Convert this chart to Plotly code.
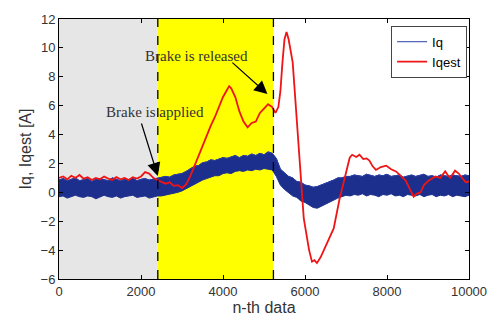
import plotly.graph_objects as go

# ---- data ----
iq_x = list(range(0, 10001, 100))
iq_upper = [0.85, 0.95, 0.8, 0.9, 1.0, 0.8, 0.85, 0.95, 0.75, 0.9,
            0.95, 0.85, 0.8, 1.0, 0.9, 0.8, 0.9, 0.85, 1.0, 0.8,
            0.9, 0.95, 0.85, 0.9, 1.0,
            1.0, 1.1, 1.05, 1.2, 1.25, 1.3, 1.45, 1.6, 1.8, 1.85,
            2.05, 2.1, 2.25, 2.2, 2.3, 2.4, 2.35, 2.45, 2.55, 2.4,
            2.55, 2.5, 2.65, 2.55, 2.7, 2.6, 2.8, 2.7,
            2.35, 1.6, 1.35, 1.1, 1.0, 0.75, 0.7, 0.5, 0.45, 0.35,
            0.4, 0.5, 0.6, 0.75, 0.85, 1.0, 1.0, 1.1, 1.1, 1.2,
            1.15, 1.1, 1.25, 1.15, 1.1, 1.2, 1.15, 1.25, 1.1, 1.15,
            1.2, 1.05, 1.15, 1.2, 1.1, 1.15, 1.25, 1.1, 1.15, 1.05,
            1.2, 1.15, 1.1, 1.2, 1.15, 1.1, 1.2, 1.15]
iq_lower = [-0.3, -0.25, -0.4, -0.3, -0.2, -0.3, -0.35, -0.25, -0.3, -0.45,
            -0.3, -0.2, -0.3, -0.35, -0.25, -0.4, -0.3, -0.25, -0.2, -0.35,
            -0.3, -0.25, -0.4, -0.3, -0.25,
            -0.25, -0.2, -0.15, -0.05, 0.0, 0.1, 0.25, 0.4, 0.55, 0.75,
            0.85, 0.95, 1.05, 1.15, 1.15, 1.3, 1.35, 1.3, 1.45, 1.5,
            1.45, 1.55, 1.5, 1.6, 1.55, 1.65, 1.6, 1.55,
            1.1, 0.5, 0.2, 0.0, -0.25, -0.35, -0.6, -0.7, -0.9, -1.05,
            -1.1, -0.95, -0.85, -0.65, -0.5, -0.4, -0.3, -0.2, -0.25, -0.15,
            -0.2, -0.1, -0.25, -0.15, -0.2, -0.3, -0.15, -0.2, -0.1, -0.25,
            -0.2, -0.3, -0.15, -0.2, -0.25, -0.15, -0.3, -0.2, -0.15, -0.3,
            -0.2, -0.25, -0.15, -0.3, -0.2, -0.25, -0.3, -0.2]

iqest_x = [0, 100, 200, 300, 400, 500, 600, 700, 800, 900,
           1000, 1100, 1200, 1300, 1400, 1500, 1600, 1700, 1800, 1900,
           2000, 2100, 2200, 2300, 2400, 2500, 2600, 2700, 2800, 2900,
           3000, 3100, 3200, 3300, 3400, 3500, 3600, 3700, 3800, 3900,
           4000, 4100, 4150, 4200, 4300, 4400, 4500, 4600, 4700, 4800,
           4900, 5000, 5100, 5200, 5280, 5350, 5400, 5450, 5500, 5550,
           5600, 5700, 5760, 5850, 5970, 6100, 6170, 6230, 6290, 6380,
           6480, 6600, 6700, 6840, 6960, 7090, 7150, 7250, 7330, 7420,
           7500, 7570, 7650, 7730, 7850, 7980, 8100, 8220, 8350, 8460,
           8560, 8650, 8720, 8820, 8900, 9010, 9100, 9180, 9300, 9420,
           9480, 9540, 9660, 9750, 9830, 9920, 10000]
iqest_y = [1.0, 1.1, 0.9, 1.15, 1.0, 1.2, 0.95, 1.05, 0.85, 1.0,
           0.9, 1.1, 0.95, 0.85, 1.05, 0.9, 1.0, 0.85, 1.05, 0.95,
           1.1, 1.4, 1.3, 1.0, 0.85, 0.75, 0.6, 0.7, 0.45, 0.5,
           0.3, 0.55, 1.1, 1.8, 2.5, 3.3, 4.0, 4.6, 5.2, 5.9,
           6.6, 7.1, 7.35, 7.2, 6.6, 5.6, 4.9, 4.5, 4.8, 4.9,
           5.5, 5.8, 6.1, 5.9, 5.5, 5.9, 7.0, 9.0, 10.6, 11.1,
           10.6, 9.0, 6.5, 2.5, -1.8, -4.0, -4.8, -4.7, -4.9, -4.5,
           -3.9, -3.1, -2.5, -0.5, 0.9, 2.4, 2.6, 2.45, 2.6, 2.3,
           2.35, 2.2, 1.8, 1.55, 1.75, 1.85, 1.6, 1.45, 1.1, 0.8,
           0.2, -0.3, -0.1, 0.0, 0.5, 0.8, 0.95, 1.1, 1.0, 1.45,
           1.2, 1.0, 1.5, 1.3, 1.0, 0.7, 0.75]

brake_applied = 2410
brake_released = 5230

x_ticks = [0, 2000, 4000, 6000, 8000, 10000]
x_tick_labels = ["0", "2000", "4000", "6000", "8000", "10000"]
y_ticks = [-6, -4, -2, 0, 2, 4, 6, 8, 10, 12]

BLUE = "#1c2f8c"
RED = "#f01414"

fig = go.Figure()

# Iq: filled noise envelope (lower edge -> upper edge)
fig.add_trace(go.Scatter(x=iq_x, y=iq_lower, mode="lines",
                         line=dict(color=BLUE, width=1), showlegend=False,
                         hoverinfo="skip"))
fig.add_trace(go.Scatter(x=iq_x, y=iq_upper, mode="lines", fill="tonexty",
                         fillcolor=BLUE, line=dict(color=BLUE, width=1),
                         showlegend=False, hoverinfo="skip"))
# line entry for Iq in the legend (drawn along the band's upper edge)
fig.add_trace(go.Scatter(x=iq_x, y=iq_upper, mode="lines", name="Iq",
                         line=dict(color="#2a3ea8", width=1), hoverinfo="skip"))
fig.add_trace(go.Scatter(x=iqest_x, y=iqest_y, mode="lines", name="Iqest",
                         line=dict(color=RED, width=1.8)))

# shaded regions
fig.add_shape(type="rect", x0=0, x1=brake_applied, y0=-6, y1=12,
              fillcolor="#e6e6e6", line_width=0, layer="below")
fig.add_shape(type="rect", x0=brake_applied, x1=brake_released, y0=-6, y1=12,
              fillcolor="#ffff00", line_width=0, layer="below")
for xv in (brake_applied, brake_released):
    fig.add_shape(type="line", x0=xv, x1=xv, y0=-6, y1=12,
                  line=dict(color="black", width=1.3, dash="dash"), layer="above")

serif = dict(family="Liberation Serif", size=15, color="#333333")
fig.add_annotation(x=3350, y=9.47, text="Brake is released", showarrow=False, font=serif)
fig.add_annotation(x=2337, y=5.53, text="Brake is applied", showarrow=False, font=serif)
fig.add_annotation(x=5084, y=6.8, ax=4193, ay=9.07, axref="x", ayref="y",
                   xref="x", yref="y", text="", showarrow=True,
                   arrowhead=2, arrowsize=2.2, arrowwidth=1.2, arrowcolor="black")
fig.add_annotation(x=2410, y=1.13, ax=2000, ay=4.87, axref="x", ayref="y",
                   xref="x", yref="y", text="", showarrow=True,
                   arrowhead=2, arrowsize=2.2, arrowwidth=1.2, arrowcolor="black")

axis_common = dict(showgrid=False, zeroline=False, showline=True, linecolor="black",
                   linewidth=1, mirror="ticks", ticks="inside", ticklen=4,
                   tickcolor="black",
                   tickfont=dict(family="Liberation Sans", size=13, color="#333333"))
fig.update_xaxes(range=[0, 10000], tickvals=x_ticks, ticktext=x_tick_labels,
                 title=dict(text="n-th data", standoff=2,
                            font=dict(family="Liberation Sans", size=16, color="#333333")),
                 **axis_common)
fig.update_yaxes(range=[-6, 12], tickvals=y_ticks,
                 title=dict(text="Iq, Iqest [A]", standoff=4,
                            font=dict(family="Liberation Sans", size=16, color="#333333")),
                 **axis_common)

fig.update_layout(
    width=499, height=324,
    margin=dict(l=59, r=26, t=15, b=39),
    plot_bgcolor="white", paper_bgcolor="white",
    legend=dict(x=0.81, y=0.974, xanchor="left", yanchor="top",
                traceorder="normal",
                bgcolor="white", bordercolor="#444444", borderwidth=1,
                font=dict(family="Liberation Sans", size=13, color="black"),
                itemwidth=30, tracegroupgap=0),
)

fig.write_html("out.html")
